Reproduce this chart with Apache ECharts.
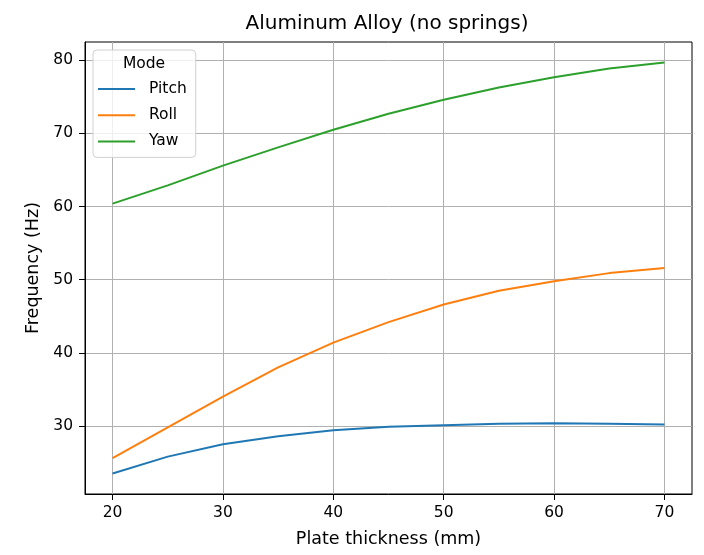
<!DOCTYPE html>
<html>
<head>
<meta charset="utf-8">
<script src="https://cdn.jsdelivr.net/npm/echarts@6/dist/echarts.min.js"></script>
<style>
  html, body { margin: 0; padding: 0; background: #fff; }
  #chart { width: 704px; height: 555px; }
</style>
</head>
<body>
<div id="chart"></div>
<script>
// Plate thickness (mm) and natural frequencies (Hz) per mode
const thickness = [20, 25, 30, 35, 40, 45, 50, 55, 60, 65, 70];
const pitch = [23.5, 25.8, 27.5, 28.6, 29.4, 29.9, 30.1, 30.3, 30.35, 30.3, 30.2];
const roll  = [25.6, 29.8, 34.0, 38.0, 41.4, 44.2, 46.6, 48.5, 49.8, 50.9, 51.6];
const yaw   = [60.4, 62.9, 65.6, 68.1, 70.5, 72.7, 74.6, 76.3, 77.7, 78.9, 79.7];
const seriesNames = ['Pitch', 'Roll', 'Yaw'];
const xTicks = [20, 30, 40, 50, 60, 70];
const yTicks = [30, 40, 50, 60, 70, 80];

const colors = ['#1f77b4', '#ff7f0e', '#2ca02c'];
const font = 'DejaVu Sans';
const tickFont = 15.5;
const nameFont = 17.5;

// 5% padding around the data range on both axes
const allVals = pitch.concat(roll, yaw);
const yLo = Math.min(...allVals), yHi = Math.max(...allVals);
const yPad = (yHi - yLo) * 0.05;
const xLo = thickness[0], xHi = thickness[thickness.length - 1];
const xPad = (xHi - xLo) * 0.05;

const pairs = arr => thickness.map((t, i) => [t, arr[i]]);

const chart = echarts.init(document.getElementById('chart'), null, { renderer: 'canvas' });

chart.setOption({
  animation: false,
  backgroundColor: '#fff',
  color: colors,
  textStyle: { fontFamily: font },
  title: {
    text: 'Aluminum Alloy (no springs)',
    left: 387,
    textAlign: 'center',
    top: 14,
    padding: 0,
    textStyle: { fontFamily: font, fontSize: 20, fontWeight: 'normal', color: '#000' }
  },
  grid: {
    left: 85, right: 12, top: 42, bottom: 61,
    show: true, borderColor: '#000', borderWidth: 1, backgroundColor: 'transparent'
  },
  legend: {
    orient: 'vertical',
    left: 93, top: 50,
    padding: [30, 9, 7, 5],
    itemGap: 8.2,
    itemWidth: 37, itemHeight: 2,
    icon: 'rect',
    backgroundColor: 'rgba(255,255,255,0.8)',
    borderColor: '#d0d0d0', borderWidth: 1, borderRadius: 4,
    data: seriesNames,
    textStyle: { fontFamily: font, fontSize: tickFont, color: '#000', lineHeight: 18, padding: [0, 0, 0, 9] }
  },
  graphic: [{
    type: 'text',
    x: 144, y: 56,
    z: 100,
    style: { text: 'Mode', fontFamily: font, fontSize: tickFont, fill: '#000', align: 'center', verticalAlign: 'top' }
  }],
  xAxis: {
    type: 'value',
    min: xLo - xPad, max: xHi + xPad,
    name: 'Plate thickness (mm)',
    nameLocation: 'middle', nameGap: 36,
    nameTextStyle: { fontFamily: font, fontSize: nameFont, color: '#000' },
    axisLine: { show: true, onZero: false, lineStyle: { color: '#000', width: 1 } },
    axisTick: { show: true, customValues: xTicks, length: 6, lineStyle: { color: '#000' } },
    axisLabel: { customValues: xTicks, margin: 11, fontFamily: font, fontSize: tickFont, color: '#000' },
    splitLine: { show: true, lineStyle: { color: '#b0b0b0', width: 1 } }
  },
  yAxis: {
    type: 'value',
    min: yLo - yPad, max: yHi + yPad,
    name: 'Frequency (Hz)',
    nameLocation: 'middle', nameGap: 41,
    nameTextStyle: { fontFamily: font, fontSize: nameFont, color: '#000' },
    axisLine: { show: true, onZero: false, lineStyle: { color: '#000', width: 1 } },
    axisTick: { show: true, customValues: yTicks, length: 6, lineStyle: { color: '#000' } },
    axisLabel: { customValues: yTicks, margin: 12, fontFamily: font, fontSize: tickFont, color: '#000' },
    splitLine: { show: true, lineStyle: { color: '#b0b0b0', width: 1 } }
  },
  series: [pitch, roll, yaw].map((arr, i) => ({
    name: seriesNames[i],
    type: 'line',
    data: pairs(arr),
    showSymbol: false,
    symbol: 'none',
    lineStyle: { width: 2, color: colors[i] },
    itemStyle: { color: colors[i] },
    z: 3
  }))
});
</script>
</body>
</html>
